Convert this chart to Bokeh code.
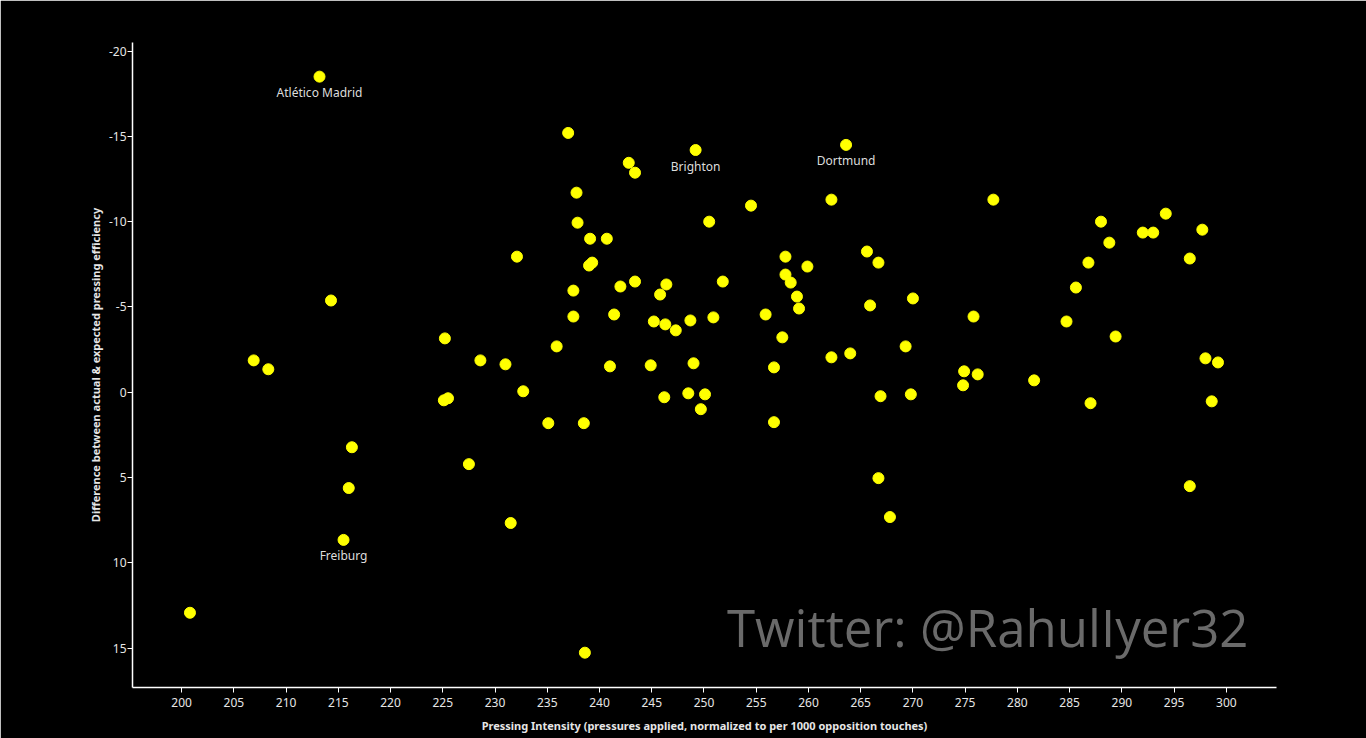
from bokeh.plotting import figure
from bokeh.models import Range1d, FixedTicker, Label, ColumnDataSource, LabelSet, PrintfTickFormatter
from bokeh.core.properties import value
from bokeh.embed import file_html
from bokeh.resources import INLINE

# Pressing intensity (x) and difference actual-expected pressing efficiency (y)
pressing_intensity = [
    213.2, 206.9, 208.3, 214.3, 216.3, 216.0, 215.5, 200.8, 225.2, 225.1,
    225.5, 228.6, 227.5, 231.0, 232.1, 232.7, 231.5, 235.1, 235.9, 237.0,
    237.8, 237.9, 237.5, 237.5, 238.5, 238.6, 239.1, 239.0, 239.3, 240.7,
    241.0, 241.4, 242.0, 242.8, 243.4, 243.4, 244.9, 245.2, 245.8, 246.4,
    246.2, 246.3, 247.3, 248.7, 249.0, 248.5, 249.7, 250.1, 249.2, 250.5,
    250.9, 251.8, 254.5, 255.9, 256.7, 256.7, 257.5, 257.8, 257.8, 258.3,
    258.9, 259.1, 259.9, 262.2, 262.2, 263.6, 264.0, 265.6, 265.9, 266.7,
    266.9, 266.7, 267.8, 269.3, 269.8, 270.0, 274.9, 274.8, 275.8, 276.2,
    277.7, 281.6, 284.7, 285.6, 286.8, 287.0, 288.0, 288.8, 289.4, 292.0,
    293.0, 294.2, 296.5, 296.5, 297.7, 298.0, 298.6, 299.2,
]
efficiency_diff = [
    -18.5, -1.87, -1.35, -5.38, 3.22, 5.61, 8.65, 12.92, -3.16, 0.47,
    0.35, -1.87, 4.21, -1.64, -7.95, -0.06, 7.66, 1.81, -2.69, -15.2,
    -11.7, -9.94, -5.96, -4.44, 1.81, 15.26, -9.0, -7.43, -7.6, -9.0,
    -1.52, -4.56, -6.2, -13.45, -12.87, -6.49, -1.58, -4.15, -5.73, -6.32,
    0.29, -3.98, -3.63, -4.21, -1.70, 0.06, 0.99, 0.12, -14.2, -10.0,
    -4.39, -6.49, -10.94, -4.56, -1.46, 1.75, -3.22, -7.95, -6.9, -6.43,
    -5.61, -4.91, -7.37, -11.29, -2.05, -14.5, -2.28, -8.25, -5.09, -7.6,
    0.23, 5.03, 7.31, -2.69, 0.12, -5.5, -1.23, -0.41, -4.44, -1.05,
    -11.29, -0.7, -4.15, -6.14, -7.6, 0.64, -10.0, -8.77, -3.27, -9.36,
    -9.36, -10.47, -7.84, 5.50, -9.53, -1.99, 0.53, -1.75,
]

label_teams = ["Atlético Madrid", "Brighton", "Dortmund", "Freiburg"]
label_x = [213.2, 249.2, 263.6, 215.5]
label_y = [-18.5, -14.2, -14.5, 8.65]

x_ticks = list(range(200, 301, 5))
y_ticks = list(range(-20, 16, 5))

FONT = "Noto Sans"

p = figure(width=1366, height=738, output_backend="svg", toolbar_location=None,
           x_range=Range1d(195.3, 304.8), y_range=Range1d(17.3, -20.5),
           background_fill_color="black", border_fill_color="black",
           outline_line_color="black", outline_line_width=2,
           min_border_left=132, min_border_right=90, min_border_top=42,
           min_border_bottom=51)
p.grid.visible = False

p.scatter(pressing_intensity, efficiency_diff, size=11, color="#ffff00",
          line_color="#ffff00")

src = ColumnDataSource(dict(x=label_x, y=label_y, t=label_teams))
p.add_layout(LabelSet(x="x", y="y", text="t", source=src, y_offset=-16,
                      text_align="center", text_baseline="middle",
                      text_color="#dddddd", text_font=value(FONT),
                      text_font_size=value("12px")))

p.add_layout(Label(x=252.2, y=13.75, text="Twitter: @RahulIyer32",
                   text_align="left", text_baseline="middle",
                   text_color="#6a6a6a", text_font="Open Sans",
                   text_font_size="51px", text_font_style="normal"))

for ax in (p.xaxis[0], p.yaxis[0]):
    ax.axis_line_color = "white"
    ax.axis_line_width = 1.5
    ax.major_tick_line_color = "white"
    ax.major_tick_out = 5
    ax.major_tick_in = 0
    ax.minor_tick_line_color = None
    ax.major_label_text_color = "#e6e6e6"
    ax.major_label_text_font = FONT
    ax.major_label_text_font_size = "12px"
    ax.axis_label_text_color = "#e6e6e6"
    ax.axis_label_text_font = FONT
    ax.axis_label_text_font_size = "11px"
    ax.axis_label_text_font_style = "bold"

p.xaxis.ticker = FixedTicker(ticks=x_ticks)
p.yaxis.ticker = FixedTicker(ticks=y_ticks)
p.yaxis.formatter = PrintfTickFormatter(format="%d")
p.xaxis.axis_label = "Pressing Intensity (pressures applied, normalized to per 1000 opposition touches)"
p.yaxis.axis_label = "Difference between actual & expected pressing efficiency"
p.xaxis.axis_label_standoff = 8
p.yaxis.major_label_standoff = 1
p.yaxis.axis_label_standoff = 3

open("out.html", "w").write(file_html(p, INLINE))
